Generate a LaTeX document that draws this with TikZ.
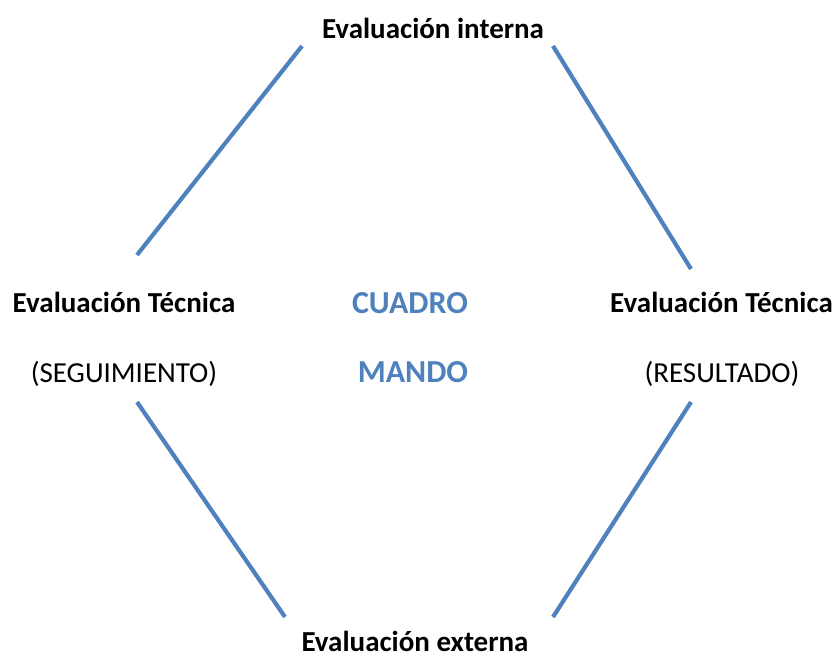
\documentclass[tikz,border=0pt]{standalone}
\usepackage{fontspec}
\setmainfont{Carlito}
\definecolor{officeblue}{HTML}{4F81BD}
\begin{document}
\begin{tikzpicture}[x=1pt,y=-1pt,
  lbl/.style={font=\fontsize{29}{34}\selectfont, inner sep=0pt, anchor=base},
  blbl/.style={lbl, font=\fontsize{29}{34}\selectfont\bfseries},
  center/.style={lbl, font=\fontsize{32}{38}\selectfont\bfseries, text=officeblue},
  link/.style={draw=officeblue, line width=4.2pt}]
\useasboundingbox (0,0) rectangle (839,657);
\node[blbl] (top) at (433,38) {Evaluación interna};
\node[blbl] (lt) at (124,312) {Evaluación Técnica};
\node[lbl] (ls) at (124,382) {(SEGUIMIENTO)};
\node[center] (c1) at (410,313) {CUADRO};
\node[center] (c2) at (413,382) {MANDO};
\node[blbl] (rt) at (721.5,312) {Evaluación Técnica};
\node[lbl] (rs) at (722,382) {(RESULTADO)};
\node[blbl] (bot) at (415,651) {Evaluación externa};
\coordinate (a1) at (137,255); \coordinate (a2) at (302,46);
\coordinate (b1) at (553,46); \coordinate (b2) at (691,269);
\coordinate (c1p) at (137,402); \coordinate (c2p) at (285,617);
\coordinate (d1) at (691,402); \coordinate (d2) at (553,617);
\draw[link] (a1) -- (a2);
\draw[link] (b1) -- (b2);
\draw[link] (c1p) -- (c2p);
\draw[link] (d1) -- (d2);
\end{tikzpicture}
\end{document}
